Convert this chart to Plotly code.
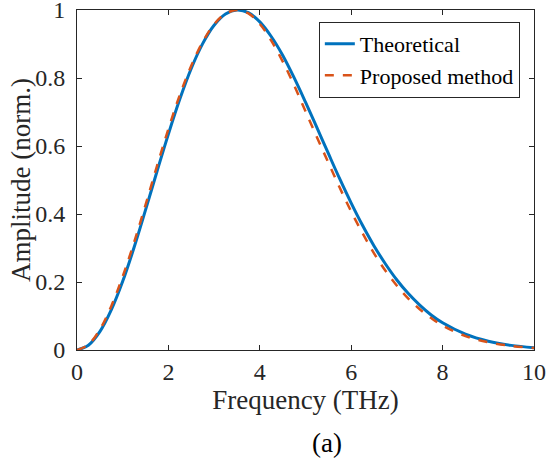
import plotly.graph_objects as go

freq = [0, 0.25, 0.5, 0.75, 1.0, 1.25, 1.5, 1.75, 2.0, 2.25, 2.5, 2.75, 3.0, 3.25, 3.5,
        3.75, 4.0, 4.25, 4.5, 4.75, 5.0, 5.25, 5.5, 5.75, 6.0, 6.25, 6.5, 6.75, 7.0,
        7.25, 7.5, 7.75, 8.0, 8.5, 9.0, 9.5, 10.0]

theoretical = [0, 0.014, 0.054, 0.118, 0.202, 0.302, 0.412, 0.525, 0.635, 0.738, 0.828,
               0.901, 0.955, 0.988, 1.0, 0.992, 0.965, 0.922, 0.867, 0.801, 0.729, 0.654,
               0.578, 0.503, 0.432, 0.366, 0.306, 0.253, 0.206, 0.166, 0.132, 0.103,
               0.080, 0.0465, 0.0257, 0.0136, 0.0069]

proposed = [0, 0.016, 0.060, 0.129, 0.216, 0.317, 0.427, 0.541, 0.650, 0.750, 0.836,
            0.906, 0.958, 0.989, 1.0, 0.990, 0.959, 0.910, 0.849, 0.779, 0.702, 0.626,
            0.551, 0.477, 0.407, 0.343, 0.284, 0.233, 0.189, 0.151, 0.120, 0.094,
            0.072, 0.041, 0.023, 0.012, 0.006]

x_ticks = [0, 2, 4, 6, 8, 10]
y_ticks = [0, 0.2, 0.4, 0.6, 0.8, 1]
y_tick_text = ["0", "0.2", "0.4", "0.6", "0.8", "1"]

FONT = "Liberation Serif"
INK = "#262626"

fig = go.Figure()
fig.add_trace(go.Scatter(x=freq, y=theoretical, mode="lines", name="Theoretical",
                         line=dict(color="#0072BD", width=3, shape="spline")))
fig.add_trace(go.Scatter(x=freq, y=proposed, mode="lines", name="Proposed method",
                         line=dict(color="#D95319", width=2.5, dash="dash", shape="spline")))

axis_common = dict(showgrid=False, zeroline=False, showline=True, linecolor=INK, linewidth=1,
                   mirror="ticks", ticks="inside", ticklen=5, tickcolor=INK, tickwidth=1,
                   automargin=False, ticklabeloverflow="allow",
                   tickfont=dict(family=FONT, size=24, color=INK))

fig.update_xaxes(range=[0, 10], tickvals=x_ticks, ticktext=[str(v) for v in x_ticks],
                 title=dict(text="Frequency (THz)", font=dict(family=FONT, size=27, color=INK), standoff=6),
                 ticklabelstandoff=0,
                 **axis_common)
fig.update_yaxes(range=[0, 1], tickvals=y_ticks, ticktext=y_tick_text,
                 ticklabelstandoff=6,
                 **axis_common)

fig.add_annotation(text="Amplitude (norm.)", x=-(77 - 21) / 457, y=0.5, xref="paper", yref="paper",
                   showarrow=False, textangle=-90, xanchor="center", yanchor="middle",
                   font=dict(family=FONT, size=27, color=INK))
fig.add_annotation(text="(a)", x=0.547, y=-(443 - 350) / 340, xref="paper", yref="paper",
                   showarrow=False, yanchor="middle",
                   font=dict(family=FONT, size=27, color="black"))

fig.update_layout(
    width=547, height=464,
    margin=dict(l=77, r=13, t=10, b=114, autoexpand=False),
    plot_bgcolor="white", paper_bgcolor="white",
    legend=dict(x=0.969, y=0.965, xanchor="right", yanchor="top",
                bgcolor="white", bordercolor=INK, borderwidth=1,
                font=dict(family=FONT, size=22, color="black"),
                tracegroupgap=0, itemwidth=30),
    showlegend=True,
)

fig.write_html("out.html")
